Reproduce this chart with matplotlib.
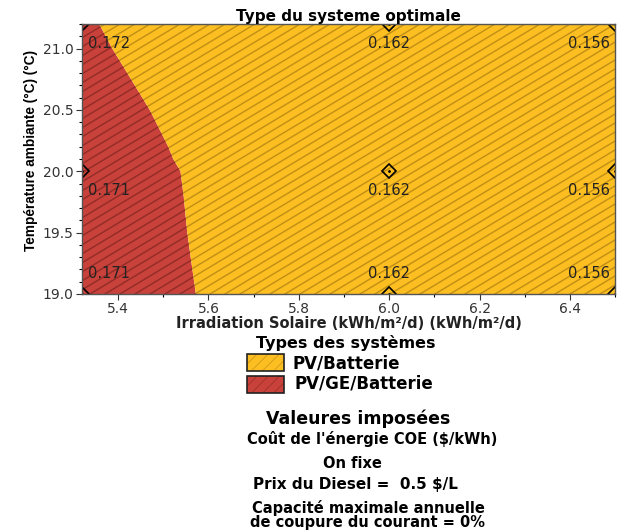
import numpy as np
import matplotlib.pyplot as plt
from matplotlib.patches import Rectangle
from matplotlib.collections import LineCollection
from matplotlib.ticker import MultipleLocator

plt.rcParams['font.family'] = ['DejaVu Sans']
plt.rcParams['hatch.linewidth'] = 0.45

# grille des calculs
irr = [5.32, 6.0, 6.5]
temp = [19.0, 20.0, 21.2]
coe = [
    [0.171, 0.162, 0.156],   # 19.0
    [0.171, 0.162, 0.156],   # 20.0
    [0.172, 0.162, 0.156],   # 21.2
]

# frontiere PV/GE/Batterie | PV/Batterie
bound_t = [19.0, 19.5, 19.8, 20.0, 20.1, 20.2, 20.5, 21.0, 21.2]
bound_irr = [5.572, 5.553, 5.545, 5.538, 5.522, 5.511, 5.47, 5.387, 5.358]

types = ["PV/Batterie", "PV/GE/Batterie"]
colors = ['#FCBE20', '#C8413A']
hatch_cols = ['#c08e16', '#922c27']

fig = plt.figure(figsize=(6.18, 5.32), dpi=100)
ax = fig.add_axes([0.1327, 0.4474, 0.8625, 0.5075])

xmin, xmax = irr[0], irr[-1]
ymin, ymax = temp[0], temp[-1]

red = ax.fill_betweenx(bound_t, xmin, bound_irr, facecolor=colors[1], linewidth=0)
yel = ax.fill_betweenx(bound_t, bound_irr, xmax, facecolor=colors[0], linewidth=0)

# hachures obliques (~31 deg), en pixels de l'axe
w_px, h_px = 533, 270
slope, step = 0.6, 9
segs = []
for c in np.arange(-slope * w_px, h_px + step, step):
    segs.append([(0, c / h_px), (1, (c + slope * w_px) / h_px)])
for poly, hc in [(red, hatch_cols[1]), (yel, hatch_cols[0])]:
    lc = LineCollection(segs, colors=hc, linewidths=1.0, transform=ax.transAxes)
    ax.add_collection(lc)
    lc.set_clip_path(poly.get_paths()[0], poly.get_transform())

for i, t in enumerate(temp):
    for j, x in enumerate(irr):
        ax.plot(x, t, marker='D', ms=7, mfc='none', mec='black', mew=1.2, clip_on=True)
        ax.plot(x, t, marker='.', ms=2, color='black')
        if j == 0:
            ha, dx = 'left', 4
        elif j == len(irr) - 1:
            ha, dx = 'right', -4
        else:
            ha, dx = 'center', 0
        dy = 15 if i == 0 else -14
        ax.annotate(f"{coe[i][j]:.3f}", (x, t), xytext=(dx, dy), textcoords='offset points',
                    ha=ha, va='center', fontsize=10.5, color='#222222')

ax.set_xlim(xmin, xmax)
ax.set_ylim(ymin, ymax)
ax.xaxis.set_major_locator(MultipleLocator(0.2))
ax.xaxis.set_minor_locator(MultipleLocator(0.1))
ax.yaxis.set_major_locator(MultipleLocator(0.5))
ax.yaxis.set_minor_locator(MultipleLocator(0.1))
ax.tick_params(labelsize=10, colors='#333333', length=4, width=0.8, pad=2)
ax.tick_params(which='minor', length=2.5, width=0.8)
ax.xaxis.set_major_formatter(lambda v, p: f"{v:.1f}")
ax.yaxis.set_major_formatter(lambda v, p: f"{v:.1f}")
for s in ax.spines.values():
    s.set_color('#555555')
    s.set_linewidth(1.0)

ax.set_title("Type du systeme optimale", fontsize=11, fontweight='bold', pad=2)
ax.set_xlabel("Irradiation Solaire (kWh/m²/d) (kWh/m²/d)", fontsize=10.5, fontweight='bold',
              color='#222222', labelpad=0)
ax.set_ylabel("Température ambiante (°C) (°C)", fontsize=9.8,
              family=['Liberation Sans Narrow', 'Liberation Sans', 'DejaVu Sans'],
              fontweight='bold')
ax.yaxis.set_label_coords(-0.083, 0.533)


def ftext(xp, yp, s, size, ha='center'):
    fig.text(xp / 618, 1 - yp / 532, s, ha=ha, va='center', fontsize=size, fontweight='bold')


# legende
ftext(346, 343, "Types des systèmes", 11.5)
for k, lab in enumerate(types):
    yb = 1 - (371 + k * 22) / 532
    fig.add_artist(Rectangle((247 / 618, yb), 37 / 618, 17 / 532, transform=fig.transFigure,
                             facecolor=colors[k], edgecolor=hatch_cols[k], hatch='///', linewidth=0))
    fig.add_artist(Rectangle((247 / 618, yb), 37 / 618, 17 / 532, transform=fig.transFigure,
                             facecolor='none', edgecolor='#222222', linewidth=1.2))
    ftext(293 + 2 * k, 363 + k * 21, lab, 12, ha='left')

ftext(358, 419, "Valeures imposées", 12.5)
ftext(372, 439, "Coût de l'énergie COE ($/kWh)", 10.5)
ftext(352, 464, "On fixe", 10.5)
ftext(355, 484, "Prix du Diesel =  0.5 $/L", 11)
ftext(368, 508, "Capacité maximale annuelle", 10.5)
ftext(368, 522, "de coupure du courant = 0%", 10.5)

fig.savefig("out.png", dpi=100)
